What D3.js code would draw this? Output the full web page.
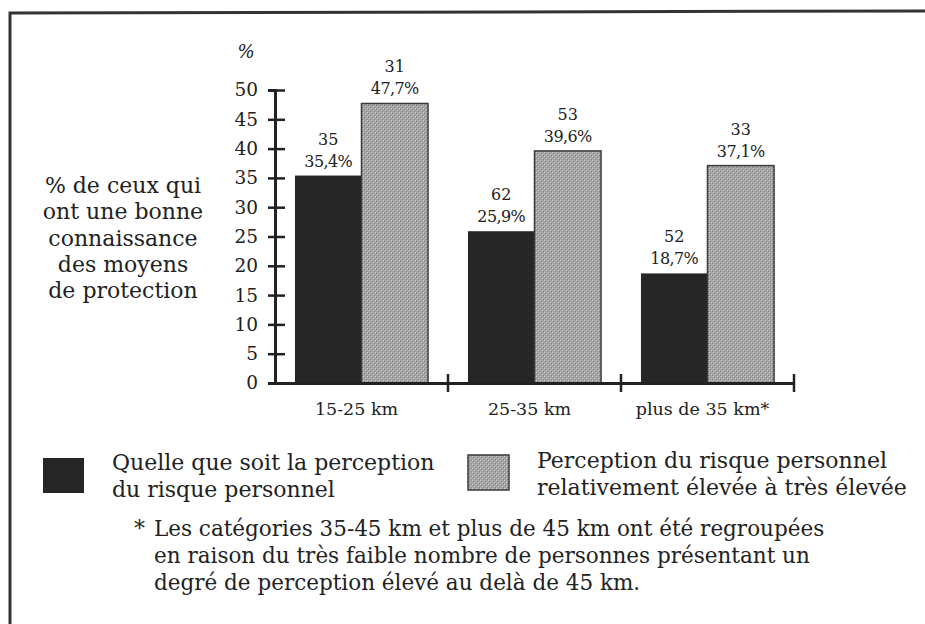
<!DOCTYPE html>
<html>
<head>
<meta charset="utf-8">
<script src="https://cdn.jsdelivr.net/npm/d3@7"></script>
<style>
  html, body { margin: 0; padding: 0; background: #fff; }
  svg { display: block; }
  svg text { font-family: "DejaVu Serif", serif; }
</style>
</head>
<body>
<svg id="chart" width="925" height="624"></svg>
<script>
// Distance classes
const categories = ["15-25 km", "25-35 km", "plus de 35 km*"];
// Series: whatever the perception / relatively high to very high perception
const seriesKeys = ["all", "high"];
const seriesNames = [
  ["Quelle que soit la perception", "du risque personnel"],
  ["Perception du risque personnel", "relativement élevée à très élevée"]
];
const valuesAll = [35.4, 25.9, 18.7];
const valuesHigh = [47.7, 39.6, 37.1];
// Number of people behind each bar
const countsAll = [35, 62, 52];
const countsHigh = [31, 53, 33];
const yTicks = [0, 5, 10, 15, 20, 25, 30, 35, 40, 45, 50];
const yUnit = "%";
const yTitle = ["% de ceux qui", "ont une bonne", "connaissance", "des moyens", "de protection"];
const footnoteMark = "*";
const footnote = [
  "Les catégories 35-45 km et plus de 45 km ont été regroupées",
  "en raison du très faible nombre de personnes présentant un",
  "degré de perception élevé au delà de 45 km."
];

const svg = d3.select("#chart");
const ink = "#222";

// Dotted grey texture for the second series
const defs = svg.append("defs");
const pat = defs.append("pattern")
  .attr("id", "dots").attr("patternUnits", "userSpaceOnUse")
  .attr("width", 4).attr("height", 4);
pat.append("rect").attr("width", 4).attr("height", 4).attr("fill", "#a4a4a4");
pat.append("rect").attr("x", 0).attr("y", 0).attr("width", 1).attr("height", 1).attr("fill", "#d4d4d4");
pat.append("rect").attr("x", 2).attr("y", 2).attr("width", 1).attr("height", 1).attr("fill", "#cecece");
pat.append("rect").attr("x", 1).attr("y", 1).attr("width", 1).attr("height", 1).attr("fill", "#7a7a7a");
pat.append("rect").attr("x", 3).attr("y", 3).attr("width", 1).attr("height", 1).attr("fill", "#7e7e7e");

// Frame around the figure
svg.append("path")
  .attr("d", "M10,624 L10,13 L925,11")
  .attr("fill", "none").attr("stroke", "#333").attr("stroke-width", 3);

const fills = { all: "#262626", high: "url(#dots)" };

const x0 = d3.scaleBand().domain(categories).range([275, 794]).padding(0);
const x1 = d3.scaleBand().domain(seriesKeys).range([0, x0.bandwidth()]).paddingInner(0).paddingOuter(0.3);
const y = d3.scaleLinear().domain([0, 50]).range([383, 90]);

const rows = categories.map((c, i) => ({
  cat: c,
  bars: [
    { key: "all", value: valuesAll[i], count: countsAll[i] },
    { key: "high", value: valuesHigh[i], count: countsHigh[i] }
  ]
}));

const groups = svg.append("g").selectAll("g").data(rows).join("g")
  .attr("transform", d => `translate(${x0(d.cat)},0)`);

groups.selectAll("rect").data(d => d.bars).join("rect")
  .attr("x", d => x1(d.key))
  .attr("y", d => y(d.value))
  .attr("width", x1.bandwidth())
  .attr("height", d => y(0) - y(d.value))
  .attr("fill", d => fills[d.key])
  .attr("stroke", d => d.key === "high" ? "#3a3a3a" : "none")
  .attr("stroke-width", 1.5);

const fmt = v => d3.format(".1f")(v).replace(".", ",") + "%";
const lbl = groups.selectAll("g.lbl").data(d => d.bars).join("g").attr("class", "lbl")
  .attr("transform", d => `translate(${x1(d.key) + x1.bandwidth() / 2},${y(d.value)})`)
  .attr("text-anchor", "middle").attr("font-size", 16).attr("fill", ink);
lbl.append("text").attr("y", -31).text(d => d.count);
lbl.append("text").attr("y", -9).attr("letter-spacing", -0.6).text(d => fmt(d.value));

// Y axis with ticks crossing the line
const yAxis = svg.append("g").attr("transform", "translate(275,0)")
  .call(d3.axisLeft(y).tickValues(yTicks).tickSize(7).tickPadding(10));
yAxis.attr("font-family", null);
yAxis.select(".domain").attr("stroke", ink).attr("stroke-width", 3);
yAxis.selectAll(".tick line").attr("x1", 10).attr("stroke", ink).attr("stroke-width", 2.5);
yAxis.selectAll(".tick text").attr("font-size", 18.5).attr("fill", ink);

// X axis: labels at band centres, ticks at band edges
const xAxis = svg.append("g").attr("transform", "translate(0,383)")
  .call(d3.axisBottom(x0).tickSize(0).tickPadding(20));
xAxis.attr("font-family", null);
xAxis.select(".domain").attr("stroke", ink).attr("stroke-width", 3);
xAxis.selectAll(".tick text").attr("font-size", 17.5).attr("fill", ink).attr("dx", -5);
const edges = categories.map(c => x0(c) + x0.bandwidth());
svg.append("g").selectAll("line").data(edges).join("line")
  .attr("x1", d => d).attr("x2", d => d)
  .attr("y1", 374).attr("y2", 392)
  .attr("stroke", ink).attr("stroke-width", 2.5);

// Unit and axis title
svg.append("text").attr("x", 246).attr("y", 58).attr("text-anchor", "middle")
  .attr("font-size", 18).attr("font-style", "italic").attr("fill", ink).text(yUnit);
svg.append("text").attr("text-anchor", "middle").attr("font-size", 22).attr("fill", ink)
  .selectAll("tspan").data(yTitle).join("tspan")
  .attr("x", 123).attr("y", (d, i) => 193 + i * 26.3).text(d => d);

// Legend
const legendPos = [
  { sx: 43, sy: 458, tx: 112, ty: 470 },
  { sx: 468, sy: 455, tx: 537, ty: 468 }
];
seriesKeys.forEach((k, i) => {
  const p = legendPos[i];
  svg.append("rect").attr("x", p.sx).attr("y", p.sy).attr("width", 41).attr("height", 35)
    .attr("fill", fills[k]).attr("stroke", k === "high" ? "#3a3a3a" : "none").attr("stroke-width", 1.5);
  svg.append("text").attr("font-size", 22).attr("fill", ink)
    .selectAll("tspan").data(seriesNames[i]).join("tspan")
    .attr("x", p.tx).attr("y", (d, j) => p.ty + j * 27).text(d => d);
});

// Footnote
svg.append("text").attr("x", 134).attr("y", 536).attr("font-size", 22).attr("fill", ink).text(footnoteMark);
svg.append("text").attr("font-size", 21.5).attr("fill", ink)
  .selectAll("tspan").data(footnote).join("tspan")
  .attr("x", 154).attr("y", (d, i) => 536 + i * 27).text(d => d);
</script>
</body>
</html>
